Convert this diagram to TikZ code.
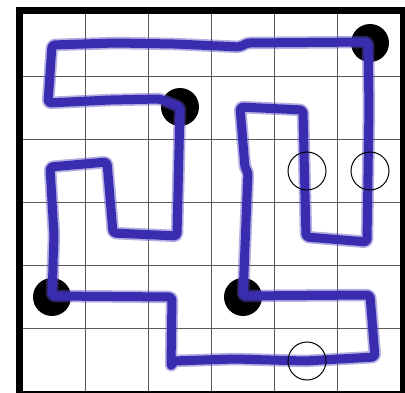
\documentclass[tikz,border=0pt]{standalone}
\begin{document}
\begin{tikzpicture}[x=1pt,y=-1pt,
  gridline/.style={draw={rgb,255:red,90;green,90;blue,90},line width=1.2},
  pathglow/.style={draw={rgb,255:red,90;green,80;blue,195},line width=12.5,line join=round,line cap=round,opacity=0.45,rounded corners=3},
  pathcore/.style={draw={rgb,255:red,58;green,44;blue,175},line width=9,line join=round,line cap=round,rounded corners=3},
  stone/.style={circle,fill=black,minimum size=38,inner sep=0},
  ring/.style={circle,draw=black,line width=1,minimum size=38,inner sep=0}]
\useasboundingbox (0,0) rectangle (405,393);
\fill[white] (0,0) rectangle (405,393);
% grid
\foreach \i in {1,...,5} {
  \draw[gridline] ({23+62.83*\i},14) -- ({23+62.83*\i},391);
  \draw[gridline] (23,{14+62.83*\i}) -- (400,{14+62.83*\i});
}
% border
\draw[line width=7] (19.5,10.5) rectangle (403.5,394.5);
% stones
\node[stone] (d1) at (370,43) {};
\node[stone] (d2) at (180,107) {};
\node[stone] (d3) at (52,297) {};
\node[stone] (d4) at (243,297) {};
% path
\def\loopline{(180,107) -- (160,99) -- (110,100) -- (48,103) -- (52,45) -- (115,43) -- (175,44) -- (240,47) -- (247,43) -- (368,42) -- (369,108) -- (367,242) -- (306,237) -- (303,110) -- (240,107) -- (245,168) -- (248,172) -- (243,296) -- (370,295) -- (375,357) -- (305,361) -- (235,359) -- (173,361) -- (171,367) -- (172,297) -- (52,296) -- (54,235) -- (50,167) -- (107,162) -- (113,233) -- (177,236) -- cycle}
\draw[pathglow] \loopline;
\draw[pathcore] \loopline;
% rings
\node[ring] (c1) at (307,171) {};
\node[ring] (c2) at (370,171) {};
\node[ring] (c3) at (307,361) {};
\end{tikzpicture}
\end{document}
